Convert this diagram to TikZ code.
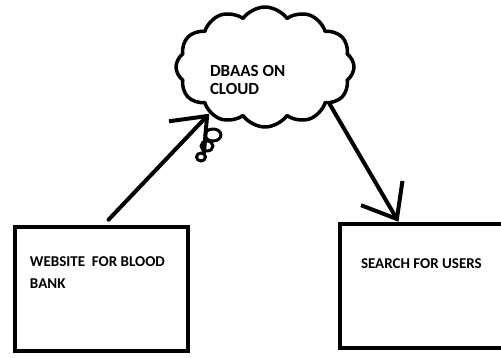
\documentclass[tikz,border=0pt]{standalone}
\usepackage{fontspec}
\setmainfont{Carlito}
\usepackage{tikz}
\usetikzlibrary{shapes.symbols}
\usetikzlibrary{shapes.geometric}
\usetikzlibrary{positioning}
\usetikzlibrary{arrows.meta}

\begin{document}
\begin{tikzpicture}[x=1pt,y=-1pt,>={Straight Barb[length=30pt,width=48pt]},
	line width=4pt,line cap=round,line join=round,
	block/.style={rectangle,draw,line width=4.5pt,line cap=butt,line join=miter,inner sep=0pt},
	box text/.style={font=\bfseries\fontsize{15}{22}\selectfont,align=left,inner sep=0pt,anchor=north west},
	bubble/.style={ellipse,draw,line width=3pt,inner sep=0pt}]
	
	\useasboundingbox (0,0) rectangle (501,358);
	
	\node[block,minimum width=173pt,minimum height=124pt] (web) at (101.5,289) {};
	\node[block,minimum width=165pt,minimum height=124pt] (search) at (422.5,286) {};
	\node[box text] (webtext) at (28,255) {WEBSITE\ \ FOR BLOOD\\BANK};
	\node[box text] (searchtext) at (359,257) {SEARCH FOR USERS};
	
	\node[cloud,draw,line width=3.5pt,cloud puffs=12,cloud puff arc=110,aspect=1.45,
		minimum width=178pt,minimum height=120pt] (cl) at (265,67) {};
	\node[box text,font=\bfseries\fontsize{17}{18}\selectfont] (cltext) at (208,63) {DBAAS ON\\CLOUD};
	
	\node[bubble,minimum width=16pt,minimum height=12pt] (b1) at (213,135) {};
	\node[bubble,minimum width=12pt,minimum height=10pt] (b2) at (207,146) {};
	\node[bubble,minimum width=9pt,minimum height=8pt] (b3) at (201,157) {};
	
	\draw[->] ([xshift=7pt,yshift=5pt]web.north) -- (cl.220);
	\draw[->] (cl.-30) -- ([xshift=-24pt]search.north);
\end{tikzpicture}
\end{document}
